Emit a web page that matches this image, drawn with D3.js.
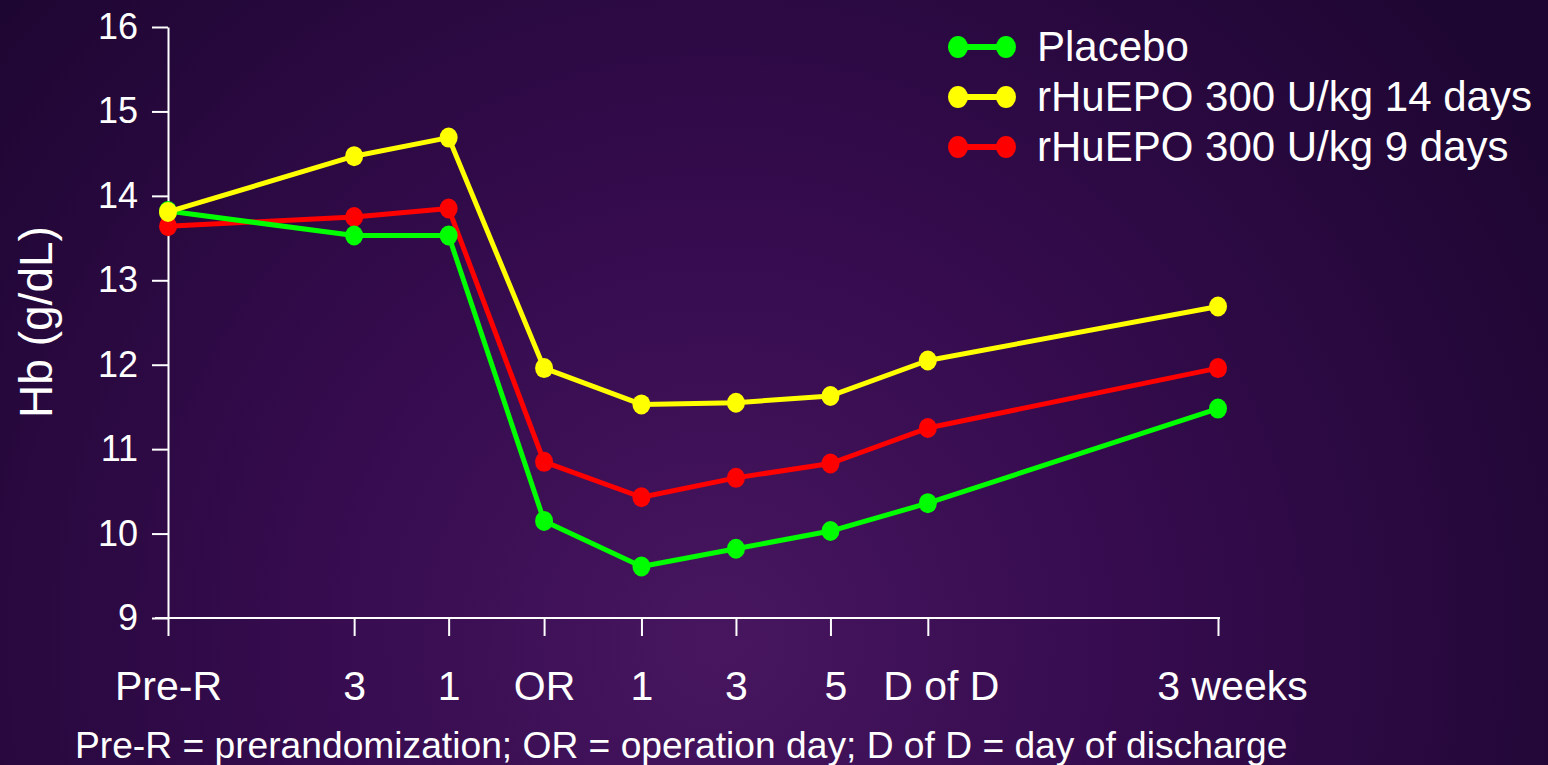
<!DOCTYPE html>
<html><head><meta charset="utf-8">
<script src="https://cdn.jsdelivr.net/npm/d3@7"></script>
<style>html,body{margin:0;padding:0;background:#2a0a40;}svg{display:block;}</style>
</head><body>
<svg id="c" width="1548" height="765"></svg>
<script>
const categories = ["Pre-R","3","1","OR","1","3","5","D of D","3 weeks"];
const catPositions = [0,1.95,2.94,3.94,4.96,5.95,6.94,7.96,11];
const seriesNames = ["Placebo","rHuEPO 300 U/kg 14 days","rHuEPO 300 U/kg 9 days"];
const seriesColors = ["#00ff00","#ffff00","#ff0000"];
const placebo = [13.82,13.53,13.53,10.15,9.61,9.82,10.03,10.36,11.48];
const epo14 = [13.81,14.47,14.69,11.96,11.53,11.55,11.63,12.05,12.69];
const epo9 = [13.64,13.75,13.85,10.85,10.43,10.66,10.83,11.25,11.96];
const yTicks = [9,10,11,12,13,14,15,16];
const yTitle = "Hb (g/dL)";
const footnote = "Pre-R = prerandomization; OR = operation day; D of D = day of discharge";

const svg = d3.select("#c");
const W=1548,H=765;
const defs = svg.append("defs");
const rg = defs.append("radialGradient").attr("id","bg").attr("gradientUnits","userSpaceOnUse")
  .attr("cx",720).attr("cy",640).attr("r",950);
rg.append("stop").attr("offset","0").attr("stop-color","#47165f");
rg.append("stop").attr("offset","0.4").attr("stop-color","#370c50");
rg.append("stop").attr("offset","1").attr("stop-color","#1e0632");
svg.append("rect").attr("width",W).attr("height",H).attr("fill","url(#bg)");

const font = "'Liberation Sans', Arial, sans-serif";
const x = d3.scaleLinear().domain([0,11]).range([168,1218]);
const y = d3.scaleLinear().domain([9,16]).range([618,27]);

// Y axis
const yAx = svg.append("g").attr("transform","translate(168,0)")
  .call(d3.axisLeft(y).tickValues(yTicks).tickFormat(d3.format("d")).tickSize(16).tickPadding(14).tickSizeOuter(0));
yAx.select(".domain").attr("stroke","#fff").attr("stroke-width",2);
yAx.selectAll(".tick line").attr("stroke","#fff").attr("stroke-width",2);
yAx.selectAll(".tick text").attr("fill","#fff").attr("font-family",font).attr("font-size",36);

// X axis
const xAx = svg.append("g").attr("transform","translate(0,618)")
  .call(d3.axisBottom(x).tickValues(catPositions).tickFormat((d,i)=>categories[i]).tickSize(18).tickPadding(35).tickSizeOuter(0));
xAx.select(".domain").attr("stroke","#fff").attr("stroke-width",2).attr("d","M155,0H1220");
xAx.selectAll(".tick line").attr("stroke","#fff").attr("stroke-width",2);
xAx.selectAll(".tick text").attr("fill","#fff").attr("font-family",font).attr("font-size",41)
  .attr("dx",(d,i)=> i===7?13:(i===8?14:(i===6?5:0)));

// Y title
svg.append("text").attr("transform","translate(52,322) rotate(-90)").attr("text-anchor","middle")
  .attr("fill","#fff").attr("font-family",font).attr("font-size",46).text(yTitle);

// Footnote
svg.append("text").attr("x",75).attr("y",758).attr("fill","#fff").attr("font-family",font)
  .attr("font-size",37.2).text(footnote);

const allSeries = [placebo, epo14, epo9];
const line = d3.line().x((d,i)=>x(catPositions[i])).y(d=>y(d));
const order = [2,0,1];
order.forEach(si=>{
  const g = svg.append("g");
  g.append("path").datum(allSeries[si]).attr("d",line).attr("fill","none")
    .attr("stroke",seriesColors[si]).attr("stroke-width",5).attr("stroke-linejoin","round");
  g.selectAll("ellipse").data(allSeries[si]).join("ellipse")
    .attr("cx",(d,i)=>x(catPositions[i])).attr("cy",d=>y(d)).attr("rx",9).attr("ry",10)
    .attr("fill",seriesColors[si]);
});

// Legend
const leg = svg.append("g");
seriesNames.forEach((n,i)=>{
  const yy = 47 + i*50;
  leg.append("line").attr("x1",958).attr("x2",1006).attr("y1",yy).attr("y2",yy)
    .attr("stroke",seriesColors[i]).attr("stroke-width",6);
  leg.append("ellipse").attr("cx",958).attr("cy",yy).attr("rx",10).attr("ry",11).attr("fill",seriesColors[i]);
  leg.append("ellipse").attr("cx",1006).attr("cy",yy).attr("rx",10).attr("ry",11).attr("fill",seriesColors[i]);
  leg.append("text").attr("x",1037).attr("y",yy+14).attr("fill","#fff").attr("font-family",font)
    .attr("font-size",42).text(n);
});
</script>
</body></html>
